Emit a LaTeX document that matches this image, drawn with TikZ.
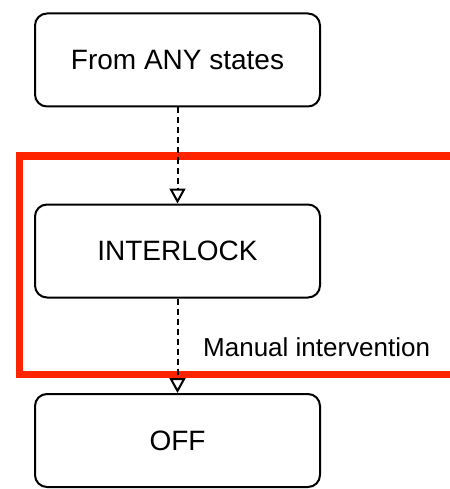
\documentclass[tikz,border=0pt]{standalone}
\usepackage{fontspec}
\setmainfont{Liberation Sans}
\usetikzlibrary{arrows.meta}
\definecolor{framered}{RGB}{255,36,0}
\tikzset{
  statebox/.style={draw, rounded corners=12pt, line width=2pt,
    minimum width=285pt, minimum height=93pt, inner sep=0pt,
    font=\fontsize{28}{33}\selectfont},
  translink/.style={draw, line width=2pt, dash pattern=on 6pt off 4pt,
    -{Triangle[open, width=16pt, length=15pt, line width=2pt]}},
  regionframe/.style={draw=framered, line width=7pt},
  notelabel/.style={anchor=west, inner sep=0pt, font=\fontsize{26}{31}\selectfont}
}
\begin{document}
\begin{tikzpicture}[x=1pt, y=-1pt]
  \useasboundingbox (0,0) rectangle (449,489);

  % interlock region frame, open to the right
  \draw[regionframe] (452,156) -| (19,374) -- (452,374);

  % states
  \node[statebox] (any) at (177.5,60) {From ANY states};
  \node[statebox] (interlock) at (177.5,251) {INTERLOCK};
  \node[statebox] (off) at (177.5,440.5) {OFF};

  % transitions
  \draw[translink] (any) -- (interlock);
  \draw[translink] (interlock) -- (off);

  \node[notelabel] (manual) at (203,347) {Manual intervention};
\end{tikzpicture}
\end{document}
